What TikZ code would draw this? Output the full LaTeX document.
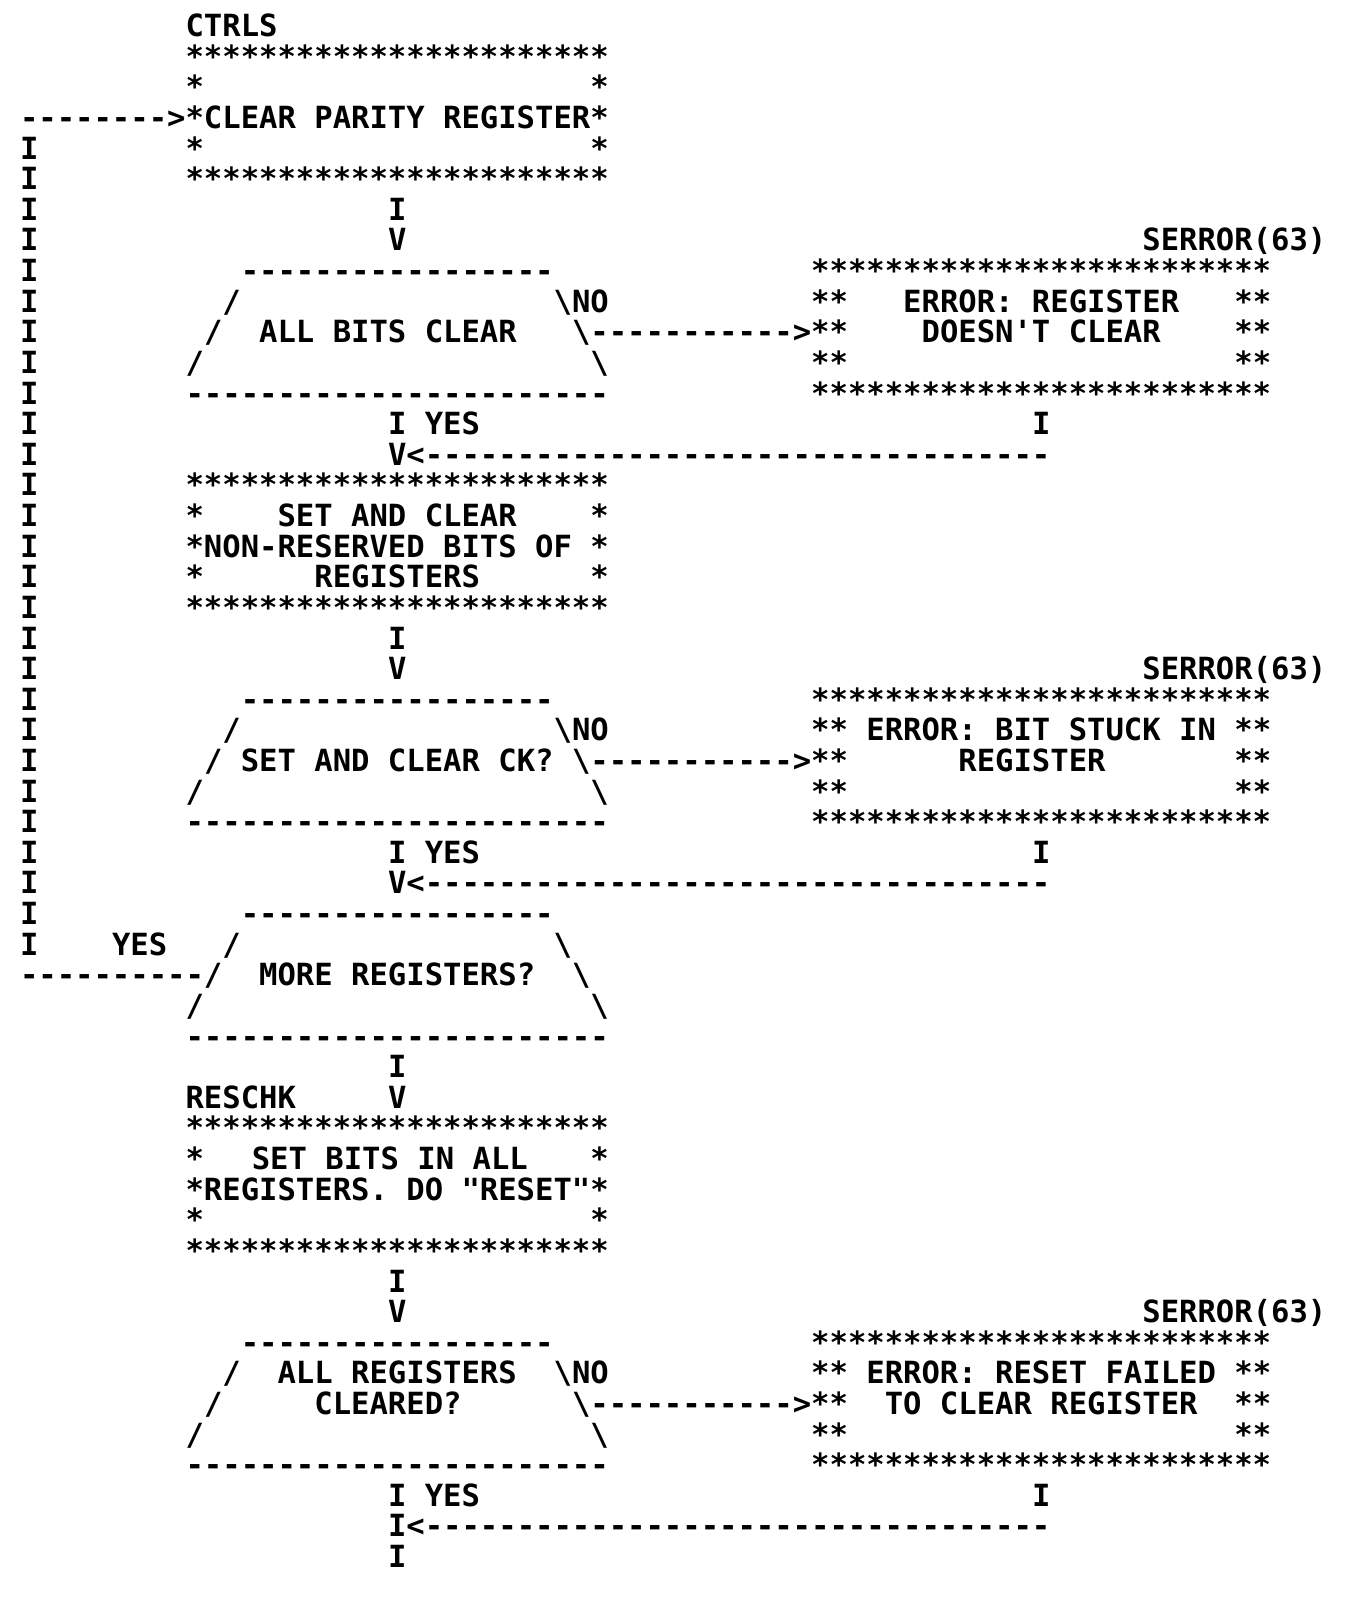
\documentclass[tikz,border=0pt]{standalone}
\usepackage{fontspec}
\newfontfamily\ascfont{DejaVu Sans Mono}
\ExplSyntaxOn
\cs_new:Npn \reprow #1#2 { \prg_replicate:nn {#1} {#2} }
\ExplSyntaxOff
\tikzset{asc/.style={anchor=base west, inner sep=0pt, outer sep=0pt,
  font={\frenchspacing\ascfont\bfseries\fontsize{30.56pt}{30pt}\selectfont}}}
\newcommand\T[4]{\node[asc] (#1) at ({20+18.4*(#2)},{-(36.6+30.62*(#3))}) {#4};}
\newcommand\bs{\textbackslash}
\begin{document}
\begin{tikzpicture}[x=1pt,y=1pt]
\fill[white] (0,0) rectangle (1369,-1610);
\useasboundingbox (0,0) rectangle (1369,-1610);
% left return column
\foreach \r in {4,...,30} {\T{lc\r}{0}{\r}{I}}
% box 1
\T{ctrls}{9}{0}{CTRLS}
\T{b1t}{9}{1}{\reprow{23}{*}}
\T{b1la}{9}{2}{*}\T{b1ra}{31}{2}{*}
\T{ret}{0}{3}{\reprow{8}{-}>}
\T{b1txt}{9}{3}{*CLEAR PARITY REGISTER*}
\T{b1lb}{9}{4}{*}\T{b1rb}{31}{4}{*}
\T{b1b}{9}{5}{\reprow{23}{*}}
\T{a1i}{20}{6}{I}
\T{a1v}{20}{7}{V}
% decision 1
\T{s1}{61}{7}{SERROR(63)}
\T{d1t}{12}{8}{\reprow{17}{-}}
\T{e1t}{43}{8}{\reprow{25}{*}}
\T{d1la}{11}{9}{/}\T{d1no}{29}{9}{\bs NO}
\T{e1la}{43}{9}{**}\T{e1x1}{48}{9}{ERROR: REGISTER}\T{e1ra}{66}{9}{**}
\T{d1lb}{10}{10}{/}\T{d1txt}{13}{10}{ALL BITS CLEAR}
\T{d1arr}{30}{10}{\bs\reprow{11}{-}>}
\T{e1lb}{43}{10}{**}\T{e1x2}{49}{10}{DOESN'T CLEAR}\T{e1rb}{66}{10}{**}
\T{d1lc}{9}{11}{/}\T{d1rc}{31}{11}{\bs}
\T{e1lc}{43}{11}{**}\T{e1rc}{66}{11}{**}
\T{d1b}{9}{12}{\reprow{23}{-}}
\T{e1b}{43}{12}{\reprow{25}{*}}
\T{y1}{20}{13}{I YES}\T{e1i}{55}{13}{I}
\T{j1}{20}{14}{V<\reprow{34}{-}}
% box 2
\T{b2t}{9}{15}{\reprow{23}{*}}
\T{b2la}{9}{16}{*}\T{b2x1}{14}{16}{SET AND CLEAR}\T{b2ra}{31}{16}{*}
\T{b2x2}{9}{17}{*NON-RESERVED BITS OF *}
\T{b2lc}{9}{18}{*}\T{b2x3}{16}{18}{REGISTERS}\T{b2rc}{31}{18}{*}
\T{b2b}{9}{19}{\reprow{23}{*}}
\T{a2i}{20}{20}{I}
\T{a2v}{20}{21}{V}
% decision 2
\T{s2}{61}{21}{SERROR(63)}
\T{d2t}{12}{22}{\reprow{17}{-}}
\T{e2t}{43}{22}{\reprow{25}{*}}
\T{d2la}{11}{23}{/}\T{d2no}{29}{23}{\bs NO}
\T{e2la}{43}{23}{**}\T{e2x1}{46}{23}{ERROR: BIT STUCK IN}\T{e2ra}{66}{23}{**}
\T{d2lb}{10}{24}{/}\T{d2txt}{12}{24}{SET AND CLEAR CK?}
\T{d2arr}{30}{24}{\bs\reprow{11}{-}>}
\T{e2lb}{43}{24}{**}\T{e2x2}{51}{24}{REGISTER}\T{e2rb}{66}{24}{**}
\T{d2lc}{9}{25}{/}\T{d2rc}{31}{25}{\bs}
\T{e2lc}{43}{25}{**}\T{e2rc}{66}{25}{**}
\T{d2b}{9}{26}{\reprow{23}{-}}
\T{e2b}{43}{26}{\reprow{25}{*}}
\T{y2}{20}{27}{I YES}\T{e2i}{55}{27}{I}
\T{j2}{20}{28}{V<\reprow{34}{-}}
% decision 3
\T{d3t}{12}{29}{\reprow{17}{-}}
\T{y3}{5}{30}{YES}\T{d3la}{11}{30}{/}\T{d3ra}{29}{30}{\bs}
\T{back}{0}{31}{\reprow{10}{-}/}\T{d3txt}{13}{31}{MORE REGISTERS?}\T{d3rb}{30}{31}{\bs}
\T{d3lc}{9}{32}{/}\T{d3rc}{31}{32}{\bs}
\T{d3b}{9}{33}{\reprow{23}{-}}
\T{a3i}{20}{34}{I}
% box 3
\T{reschk}{9}{35}{RESCHK}\T{a3v}{20}{35}{V}
\T{b3t}{9}{36}{\reprow{23}{*}}
\T{b3la}{9}{37}{*}\T{b3x1}{12.6}{37}{SET BITS IN ALL}\T{b3ra}{31}{37}{*}
\T{b3x2}{9}{38}{*REGISTERS. DO "RESET"*}
\T{b3lc}{9}{39}{*}\T{b3rc}{31}{39}{*}
\T{b3b}{9}{40}{\reprow{23}{*}}
\T{a4i}{20}{41}{I}
\T{a4v}{20}{42}{V}
% decision 4
\T{s3}{61}{42}{SERROR(63)}
\T{d4t}{12}{43}{\reprow{17}{-}}
\T{e3t}{43}{43}{\reprow{25}{*}}
\T{d4la}{11}{44}{/}\T{d4x1}{14}{44}{ALL REGISTERS}\T{d4no}{29}{44}{\bs NO}
\T{e3la}{43}{44}{**}\T{e3x1}{46}{44}{ERROR: RESET FAILED}\T{e3ra}{66}{44}{**}
\T{d4lb}{10}{45}{/}\T{d4x2}{16}{45}{CLEARED?}
\T{d4arr}{30}{45}{\bs\reprow{11}{-}>}
\T{e3lb}{43}{45}{**}\T{e3x2}{47}{45}{TO CLEAR REGISTER}\T{e3rb}{66}{45}{**}
\T{d4lc}{9}{46}{/}\T{d4rc}{31}{46}{\bs}
\T{e3lc}{43}{46}{**}\T{e3rc}{66}{46}{**}
\T{d4b}{9}{47}{\reprow{23}{-}}
\T{e3b}{43}{47}{\reprow{25}{*}}
\T{y4}{20}{48}{I YES}\T{e3i}{55}{48}{I}
\T{j3}{20}{49}{I<\reprow{34}{-}}
\T{out}{20}{50}{I}
\end{tikzpicture}
\end{document}
